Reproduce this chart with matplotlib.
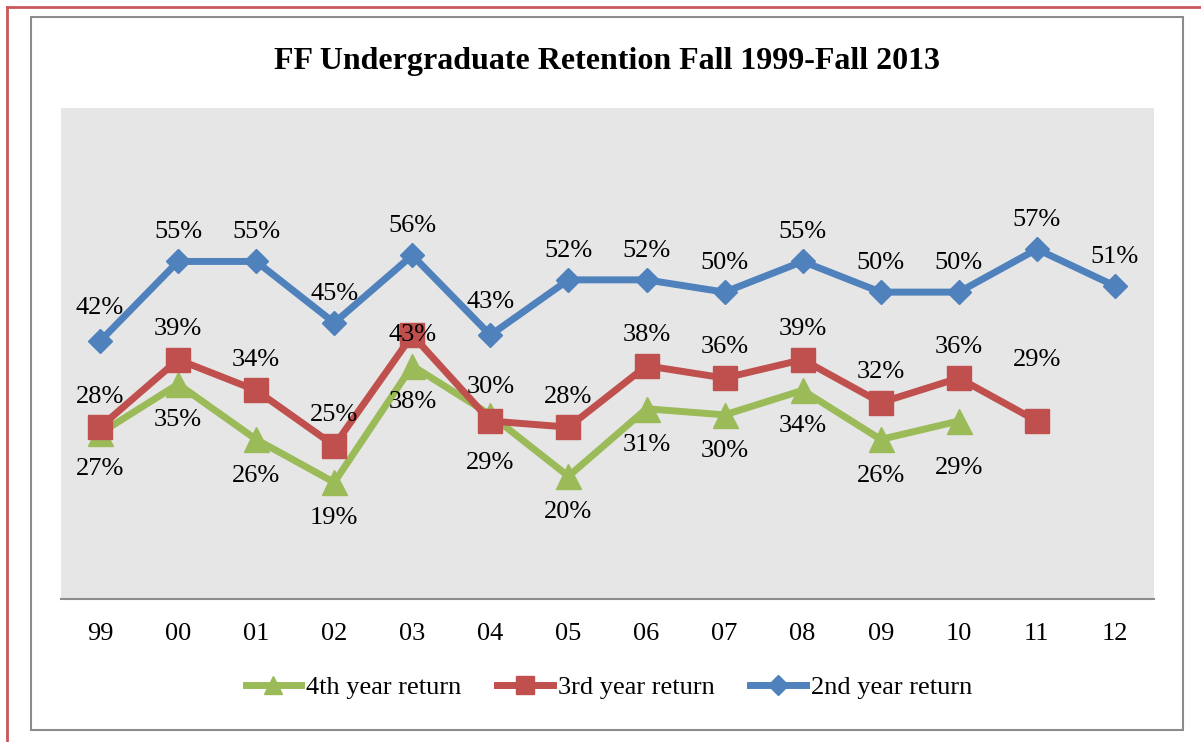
import matplotlib
matplotlib.use("Agg")
import matplotlib.pyplot as plt
from matplotlib.patches import Rectangle
from matplotlib.lines import Line2D

years = ["99", "00", "01", "02", "03", "04", "05", "06", "07", "08", "09", "10", "11", "12"]
second_year = [42, 55, 55, 45, 56, 43, 52, 52, 50, 55, 50, 50, 57, 51]
third_year = [28, 39, 34, 25, 43, 29, 28, 38, 36, 39, 32, 36, 29]
fourth_year = [27, 35, 26, 19, 38, 30, 20, 31, 30, 34, 26, 29]

# label vertical offsets in points (positive = above)
third_offsets = [22, 22, 22, 22, 0, -30, 22, 22, 22, 22, 22, 22, 44]
fourth_offsets = [-26, -26, -26, -26, -26, 20, -26, -26, -26, -26, -26, -34]
second_offsets = [24, 21, 21, 21, 21, 24, 21, 21, 21, 21, 21, 21, 21, 21]

BLUE = "#4F81BD"
RED = "#C0504D"
GREEN = "#9BBB59"
FS = 19

plt.rcParams['font.family'] = ['Liberation Serif', 'DejaVu Serif']

fig = plt.figure(figsize=(12.01, 7.42), dpi=100)
ax = fig.add_axes([61/1201, 1-599/742, (1154-61)/1201, (599-108)/742])
ax.set_facecolor("#E6E6E6")

x = list(range(len(years)))
ax.plot(x[:len(fourth_year)], fourth_year, color=GREEN, lw=5, marker="^", ms=18,
        label="4th year return", zorder=3)
ax.plot(x[:len(third_year)], third_year, color=RED, lw=5, marker="s", ms=17,
        label="3rd year return", zorder=4)
ax.plot(x, second_year, color=BLUE, lw=5, marker="D", ms=12,
        label="2nd year return", zorder=5)

def labels(vals, offs):
    for i, (v, o) in enumerate(zip(vals, offs)):
        ax.annotate(f"{v}%", (i, v), xytext=(0, o), textcoords="offset points",
                    ha="center", va="center", fontsize=FS, color="black", zorder=6)

labels(second_year, second_offsets)
labels(third_year, third_offsets)
labels(fourth_year, fourth_offsets)

ax.set_xlim(-0.5, len(years) - 0.5)
ax.set_ylim(0, 80)
ax.set_xticks(x)
ax.set_xticklabels(years, fontsize=FS)
ax.set_yticks([])
ax.tick_params(axis="x", length=0, pad=17)
for s in ["top", "left", "right"]:
    ax.spines[s].set_visible(False)
ax.spines["bottom"].set_color("#8C8C8C")
ax.spines["bottom"].set_linewidth(1.5)

fig.text(607/1201, 1-58/742, "FF Undergraduate Retention Fall 1999-Fall 2013",
         ha="center", va="center_baseline", fontsize=23, fontweight="bold")

handles = [
    Line2D([], [], color=GREEN, lw=5, marker="^", ms=13),
    Line2D([], [], color=RED, lw=5, marker="s", ms=13),
    Line2D([], [], color=BLUE, lw=5, marker="D", ms=10),
]
fig.legend(handles, ["4th year return", "3rd year return", "2nd year return"],
           loc="center", bbox_to_anchor=(609/1201, 1-687/742), ncol=3, frameon=False,
           fontsize=FS, handlelength=2.1, handletextpad=0.2, columnspacing=1.35)

# chart border (gray)
fig.patches.append(Rectangle((31/1201, 1-730/742), (1183-31)/1201, (730-17)/742,
                             transform=fig.transFigure, fill=False,
                             edgecolor="#8C8C8C", lw=1.5))
# page border (red)
fig.add_artist(Line2D([7/1201, 7/1201], [0, 1-7/742], transform=fig.transFigure,
                      color="#C9585A", lw=2))
fig.add_artist(Line2D([7/1201, 1], [1-7/742, 1-7/742], transform=fig.transFigure,
                      color="#C9585A", lw=2))

fig.savefig("out.png", dpi=100)
